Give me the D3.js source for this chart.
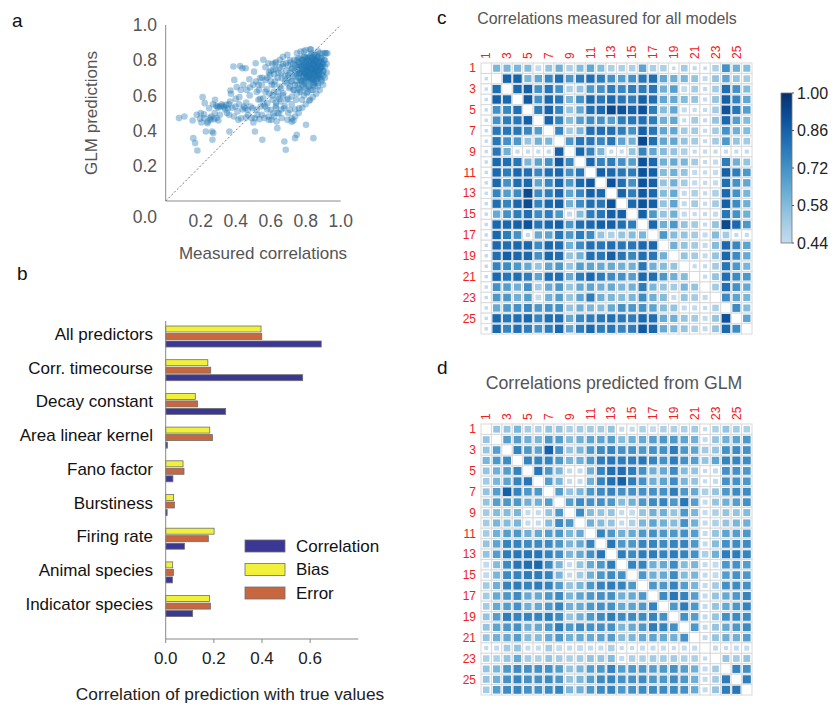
<!DOCTYPE html>
<html>
<head>
<meta charset="utf-8">
<script src="https://cdn.jsdelivr.net/npm/d3@7"></script>
<style>
  body { margin: 0; background: #fff; }
  text { font-family: 'Liberation Sans', Arial, sans-serif; }
</style>
</head>
<body>
<svg id="fig" width="837" height="707"></svg>
<script>
// ---------- Panel a: measured vs GLM-predicted correlations ----------
const scatterPoints = [
  [0.076,0.471],[0.107,0.480],[0.154,0.457],[0.158,0.357],[0.168,0.329],[0.181,0.287],[0.177,0.490],[0.196,0.467],
  [0.204,0.446],[0.211,0.590],[0.219,0.493],[0.223,0.556],[0.229,0.395],[0.238,0.442],[0.248,0.527],[0.253,0.471],
  [0.257,0.461],[0.265,0.395],[0.267,0.348],[0.272,0.386],[0.276,0.465],[0.282,0.575],[0.288,0.541],[0.291,0.471],
  [0.301,0.457],[0.295,0.537],[0.310,0.537],[0.324,0.541],[0.333,0.533],[0.345,0.546],[0.356,0.527],[0.362,0.490],
  [0.364,0.395],[0.368,0.565],[0.370,0.628],[0.373,0.609],[0.387,0.764],[0.392,0.688],[0.398,0.537],[0.406,0.647],
  [0.410,0.509],[0.415,0.461],[0.421,0.590],[0.425,0.767],[0.429,0.631],[0.438,0.754],[0.444,0.660],[0.448,0.537],
  [0.453,0.527],[0.457,0.754],[0.459,0.474],[0.463,0.631],[0.469,0.518],[0.478,0.692],[0.482,0.645],[0.486,0.537],
  [0.491,0.471],[0.497,0.527],[0.501,0.446],[0.505,0.735],[0.510,0.395],[0.514,0.783],[0.516,0.679],[0.520,0.518],
  [0.524,0.490],[0.530,0.575],[0.533,0.631],[0.535,0.465],[0.539,0.698],[0.543,0.537],[0.549,0.660],[0.552,0.348],
  [0.558,0.802],[0.558,0.584],[0.564,0.471],[0.568,0.537],[0.571,0.688],[0.577,0.635],[0.581,0.556],[0.587,0.783],
  [0.587,0.480],[0.592,0.609],[0.596,0.716],[0.600,0.518],[0.604,0.461],[0.606,0.660],[0.611,0.575],[0.615,0.745],
  [0.615,0.499],[0.619,0.622],[0.625,0.783],[0.625,0.679],[0.630,0.541],[0.634,0.452],[0.638,0.414],[0.640,0.594],
  [0.644,0.728],[0.648,0.499],[0.653,0.802],[0.653,0.650],[0.657,0.565],[0.663,0.698],[0.663,0.471],[0.667,0.764],
  [0.672,0.612],[0.676,0.527],[0.678,0.338],[0.682,0.679],[0.686,0.291],[0.688,0.783],[0.691,0.575],[0.695,0.461],
  [0.695,0.830],[0.701,0.716],[0.705,0.641],[0.710,0.518],[0.714,0.787],[0.716,0.679],[0.720,0.594],[0.724,0.754],
  [0.730,0.457],[0.733,0.631],[0.735,0.802],[0.739,0.357],[0.741,0.707],[0.745,0.575],[0.749,0.376],[0.752,0.775],
  [0.754,0.660],[0.758,0.811],[0.762,0.527],[0.764,0.726],[0.768,0.631],[0.771,0.849],[0.773,0.684],[0.777,0.764],
  [0.779,0.575],[0.783,0.802],[0.787,0.650],[0.790,0.735],[0.794,0.820],[0.796,0.679],[0.800,0.858],[0.802,0.433],
  [0.802,0.773],[0.806,0.612],[0.810,0.707],[0.813,0.811],[0.815,0.650],[0.819,0.754],[0.825,0.575],[0.825,0.862],
  [0.829,0.792],[0.830,0.684],[0.834,0.839],[0.838,0.726],[0.840,0.631],[0.844,0.357],[0.844,0.773],[0.848,0.820],
  [0.851,0.669],[0.853,0.745],[0.857,0.802],[0.859,0.707],[0.863,0.830],[0.867,0.764],[0.869,0.650],[0.872,0.792],
  [0.876,0.716],[0.882,0.839],[0.886,0.754],[0.888,0.811],[0.891,0.679],[0.895,0.783],[0.897,0.839],[0.901,0.735],
  [0.905,0.802],[0.910,0.764],[0.916,0.839],[0.924,0.839],[0.901,0.711],
  [0.74,0.74],[0.75,0.72],[0.76,0.76],[0.77,0.73],[0.78,0.75],[0.79,0.71],[0.80,0.74],[0.81,0.77],[0.82,0.72],
  [0.83,0.75],[0.84,0.78],[0.85,0.73],[0.86,0.76],[0.87,0.74],[0.88,0.77],[0.89,0.72],[0.76,0.79],[0.78,0.80],
  [0.80,0.79],[0.82,0.80],[0.84,0.81],[0.86,0.80],[0.88,0.79],[0.83,0.70],[0.85,0.69],[0.81,0.68],[0.79,0.67],
  [0.77,0.69],[0.75,0.68],[0.73,0.71],[0.72,0.75],[0.71,0.73],[0.70,0.77],[0.69,0.74],[0.68,0.71],[0.67,0.78],
  [0.66,0.73],[0.65,0.76],[0.64,0.70],[0.63,0.75],[0.62,0.72],[0.61,0.78],[0.60,0.74],[0.58,0.70],[0.57,0.76],
  [0.80,0.76],[0.81,0.74],[0.82,0.76],[0.83,0.73],[0.84,0.75],[0.85,0.77],[0.86,0.74],[0.87,0.78],[0.84,0.72],
  [0.82,0.78],[0.80,0.72],[0.78,0.73],[0.79,0.77],[0.83,0.79],[0.85,0.80],[0.87,0.71],[0.88,0.74],[0.89,0.76],
  [0.90,0.78],[0.86,0.71],[0.84,0.69],[0.82,0.69],[0.80,0.70],[0.78,0.68],[0.76,0.70],[0.74,0.77],[0.73,0.78],
  [0.75,0.80],[0.77,0.81],[0.79,0.82],[0.81,0.81],[0.83,0.82],[0.85,0.83],[0.87,0.82],[0.89,0.81],[0.91,0.80],
  [0.90,0.74],[0.88,0.70],[0.86,0.68],[0.84,0.66],[0.82,0.65],[0.80,0.64],[0.78,0.66],[0.76,0.64],[0.74,0.66],
  [0.72,0.68],[0.70,0.70],[0.69,0.67],[0.71,0.65],[0.73,0.63],[0.75,0.61],[0.77,0.62],[0.79,0.60],[0.81,0.62],
  [0.83,0.63],[0.85,0.65],[0.87,0.67],[0.89,0.69],[0.66,0.64],[0.64,0.62],[0.62,0.66],[0.60,0.68],[0.67,0.60],
  [0.65,0.58],[0.63,0.56],[0.70,0.58],[0.72,0.55],[0.68,0.54],[0.66,0.52],[0.64,0.50],[0.62,0.48],[0.70,0.50],
  [0.72,0.47],[0.74,0.52],[0.58,0.52],[0.56,0.55],[0.54,0.58],[0.52,0.62],[0.50,0.66],[0.48,0.60],[0.46,0.56],
  [0.44,0.52],[0.42,0.55],[0.40,0.58],[0.38,0.53],[0.36,0.55],[0.34,0.52],[0.32,0.55],[0.30,0.53],[0.28,0.50],
  [0.26,0.48],[0.24,0.45],[0.22,0.47],[0.20,0.50],[0.27,0.55],[0.31,0.49],[0.35,0.50],[0.39,0.48],[0.43,0.47],
  [0.47,0.49],[0.51,0.47],[0.55,0.49],[0.59,0.46],[0.63,0.53],[0.61,0.60],[0.57,0.62],[0.53,0.66],[0.55,0.70],
  [0.59,0.73],[0.63,0.79],[0.67,0.82],[0.71,0.80],[0.75,0.84],[0.79,0.85],[0.83,0.86],[0.87,0.85],[0.91,0.84],
  [0.92,0.78],[0.92,0.73],[0.91,0.70],[0.90,0.66],[0.88,0.63],[0.86,0.61],[0.84,0.59],[0.82,0.57],[0.80,0.55],
  [0.78,0.53],[0.76,0.50],[0.74,0.48],[0.72,0.45],
  [0.805,0.745],[0.815,0.735],[0.825,0.755],[0.835,0.745],[0.845,0.735],[0.855,0.755],[0.865,0.745],[0.875,0.735],
  [0.815,0.765],[0.835,0.775],[0.855,0.765],[0.845,0.785],[0.825,0.715],[0.845,0.715],[0.865,0.725],[0.805,0.705],
  [0.795,0.725],[0.785,0.745],[0.775,0.765],[0.795,0.785],[0.815,0.795],[0.855,0.795],[0.875,0.775],[0.885,0.755],
  [0.865,0.695],[0.835,0.695],[0.815,0.705],[0.785,0.705],[0.765,0.725],[0.755,0.745],[0.765,0.775],[0.785,0.785],
  [0.805,0.815],[0.825,0.825],[0.845,0.805],[0.865,0.815],[0.885,0.795],[0.895,0.765],[0.875,0.705],[0.845,0.675]
];
const scatterYTicks = [0.2, 0.4, 0.6, 0.8, 1.0];
const scatterXTicks = [0.2, 0.4, 0.6, 0.8, 1.0];

// ---------- Panel b: predictor importance ----------
const predictors = ["All predictors","Corr. timecourse","Decay constant","Area linear kernel",
  "Fano factor","Burstiness","Firing rate","Animal species","Indicator species"];
const biasValues        = [0.396,0.175,0.123,0.183,0.072,0.033,0.201,0.029,0.182];
const errorValues       = [0.399,0.187,0.132,0.194,0.076,0.036,0.177,0.032,0.186];
const correlationValues = [0.646,0.569,0.249,0.007,0.030,0.006,0.078,0.028,0.112];
const barSeries = ["Bias","Error","Correlation"];
const legendOrder = ["Correlation","Bias","Error"];
const barTicks = [0.0, 0.2, 0.4, 0.6];

// ---------- Panels c and d: model-by-model correlation matrices ----------
const modelIds = d3.range(1, 27);
const modelTickLabels = [1,3,5,7,9,11,13,15,17,19,21,23,25];
const colorbarTicks = [0.44, 0.58, 0.72, 0.86, 1.00];

const measuredMatrix = [
  [null,.60,.60,.60,.58,.40,.55,.62,.50,.58,.65,.58,.50,.50,.50,.66,.50,.50,.14,.52,.20,.14,.50,.72,.62,.58],
  [.14,null,.85,.85,.60,.65,.75,.82,.70,.78,.82,.78,.72,.68,.72,.80,.82,.65,.62,.60,.55,.30,.55,.66,.55,.52],
  [.14,.82,null,.84,.86,.72,.80,.72,.50,.55,.70,.72,.78,.75,.78,.78,.80,.62,.68,.40,.52,.20,.52,.82,.72,.58],
  [.14,.86,.84,null,.88,.72,.84,.80,.60,.72,.84,.80,.84,.80,.78,.86,.82,.65,.64,.58,.55,.20,.55,.86,.76,.65],
  [.14,.72,.75,.82,null,.78,.85,.76,.55,.65,.82,.84,.93,.90,.86,.90,.78,.58,.65,.30,.20,.20,.52,.90,.80,.68],
  [.14,.72,.78,.80,.86,null,.85,.76,.58,.68,.74,.72,.68,.78,.80,.82,.78,.62,.65,.20,.52,.20,.55,.84,.68,.58],
  [.14,.80,.80,.80,.75,.68,null,.76,.52,.60,.82,.82,.82,.78,.72,.86,.80,.65,.65,.52,.52,.20,.52,.72,.62,.58],
  [.14,.80,.72,.70,.55,.62,.60,null,.70,.80,.80,.75,.80,.66,.62,.93,.82,.65,.65,.55,.52,.20,.52,.70,.55,.52],
  [.14,.80,.62,.20,.20,.20,.20,.86,null,.84,.76,.60,.20,.20,.55,.76,.65,.58,.55,.50,.20,.20,.20,.20,.20,.20],
  [.14,.84,.82,.80,.60,.66,.72,.88,.75,null,.84,.76,.78,.72,.68,.90,.84,.62,.64,.60,.52,.20,.30,.78,.62,.55],
  [.14,.84,.78,.84,.82,.75,.82,.84,.72,.80,null,.86,.84,.80,.78,.90,.86,.58,.62,.55,.30,.20,.30,.86,.78,.70],
  [.14,.84,.72,.82,.84,.66,.75,.84,.70,.84,.88,null,.90,.82,.72,.90,.86,.55,.62,.52,.30,.20,.30,.82,.72,.65],
  [.14,.76,.68,.74,.93,.74,.78,.84,.66,.75,.86,.84,null,.85,.78,.88,.84,.58,.64,.30,.50,.20,.50,.84,.72,.60],
  [.14,.82,.76,.84,.92,.76,.84,.86,.62,.74,.82,.80,.90,null,.84,.90,.86,.55,.66,.30,.52,.20,.52,.86,.74,.62],
  [.14,.64,.72,.78,.82,.74,.78,.70,.30,.58,.78,.80,.86,.86,null,.86,.70,.55,.62,.30,.20,.20,.30,.80,.72,.62],
  [.14,.84,.84,.86,.90,.80,.84,.86,.70,.82,.84,.86,.86,.82,.78,null,.84,.62,.70,.55,.52,.20,.55,.93,.84,.70],
  [.14,.84,.78,.72,.20,.64,.66,.80,.70,.78,.74,.55,.50,.55,.58,.60,null,.70,.58,.55,.52,.30,.58,.52,.20,.20],
  [.14,.84,.82,.84,.84,.74,.84,.82,.62,.74,.82,.80,.82,.80,.80,.84,.84,null,.62,.55,.52,.30,.58,.84,.75,.66],
  [.14,.82,.86,.84,.84,.72,.84,.82,.55,.62,.82,.80,.86,.80,.75,.82,.80,.62,null,.55,.52,.30,.55,.84,.74,.64],
  [.14,.76,.74,.70,.64,.55,.66,.70,.55,.68,.66,.64,.64,.62,.62,.80,.62,.58,.55,null,.20,.20,.52,.80,.70,.60],
  [.14,.84,.80,.82,.78,.66,.82,.82,.64,.78,.84,.78,.74,.72,.68,.84,.82,.70,.62,.58,null,.20,.55,.82,.74,.70],
  [.14,.72,.68,.62,.72,.52,.64,.70,.55,.64,.66,.62,.64,.60,.62,.78,.60,.55,.52,.60,.55,null,.52,.82,.72,.64],
  [.14,.70,.70,.62,.68,.40,.62,.68,.55,.66,.78,.62,.60,.58,.60,.74,.62,.58,.30,.55,.52,.30,null,.74,.66,.60],
  [.14,.64,.70,.72,.75,.70,.72,.72,.55,.62,.60,.58,.64,.72,.70,.72,.66,.58,.55,.30,.30,.20,.50,null,.74,.58],
  [.14,.84,.80,.82,.84,.76,.82,.82,.64,.75,.78,.80,.82,.80,.78,.84,.82,.64,.62,.55,.52,.30,.55,.90,null,.66],
  [.14,.84,.76,.82,.78,.72,.78,.84,.66,.78,.84,.78,.80,.76,.78,.88,.84,.64,.60,.55,.50,.30,.55,.84,.74,null]
];

const predictedMatrix = [
  [null,.55,.55,.60,.52,.50,.55,.55,.50,.52,.52,.52,.55,.30,.30,.50,.40,.50,.50,.50,.52,.20,.50,.55,.52,.50],
  [.55,null,.68,.68,.62,.60,.70,.68,.58,.62,.66,.66,.68,.58,.62,.64,.68,.70,.70,.66,.62,.30,.55,.62,.66,.70],
  [.55,.68,null,.76,.70,.66,.86,.72,.55,.60,.70,.74,.76,.72,.72,.70,.72,.72,.78,.70,.66,.52,.55,.72,.74,.72],
  [.60,.70,.74,null,.76,.76,.76,.70,.60,.62,.70,.78,.80,.78,.78,.80,.76,.72,.78,.72,.68,.55,.66,.76,.76,.74],
  [.55,.62,.68,.76,null,.80,.70,.60,.30,.30,.62,.76,.82,.82,.78,.72,.62,.64,.74,.58,.55,.20,.30,.72,.72,.70],
  [.52,.60,.66,.76,.80,null,.68,.60,.30,.30,.62,.76,.82,.86,.78,.72,.62,.66,.74,.60,.55,.20,.30,.72,.72,.70],
  [.55,.68,.86,.76,.70,.70,null,.68,.55,.60,.70,.74,.76,.72,.72,.72,.72,.72,.78,.70,.64,.50,.55,.70,.74,.74],
  [.55,.68,.70,.70,.62,.62,.68,null,.68,.74,.72,.72,.70,.58,.62,.70,.74,.76,.70,.80,.68,.30,.55,.62,.68,.72],
  [.52,.58,.58,.60,.30,.30,.55,.70,null,.74,.58,.55,.55,.30,.40,.55,.62,.62,.55,.70,.60,.30,.50,.55,.55,.58],
  [.52,.60,.58,.60,.30,.30,.58,.74,.70,null,.62,.58,.55,.30,.50,.60,.66,.62,.58,.72,.62,.30,.50,.55,.60,.62],
  [.52,.62,.68,.70,.62,.64,.68,.70,.60,.64,null,.76,.70,.62,.64,.70,.72,.70,.70,.72,.68,.30,.55,.66,.68,.70],
  [.55,.66,.76,.76,.74,.74,.74,.70,.60,.64,.76,null,.80,.70,.70,.76,.76,.74,.76,.76,.70,.30,.58,.72,.74,.74],
  [.55,.68,.78,.80,.80,.80,.76,.72,.60,.64,.72,.80,null,.78,.74,.78,.78,.76,.78,.76,.72,.50,.62,.78,.78,.76],
  [.40,.58,.74,.80,.82,.84,.74,.60,.30,.55,.64,.70,.78,null,.76,.76,.62,.64,.74,.58,.60,.30,.40,.70,.72,.68],
  [.40,.60,.74,.76,.78,.78,.76,.60,.30,.52,.62,.70,.74,.72,null,.70,.62,.64,.74,.58,.60,.30,.40,.68,.72,.70],
  [.52,.62,.76,.78,.76,.78,.76,.68,.55,.60,.70,.76,.78,.76,.70,null,.70,.70,.76,.68,.60,.30,.52,.72,.74,.72],
  [.52,.64,.70,.74,.64,.64,.70,.74,.60,.66,.70,.72,.72,.62,.64,.70,null,.74,.80,.76,.68,.30,.55,.64,.70,.76],
  [.52,.64,.68,.72,.62,.64,.70,.76,.62,.64,.70,.72,.72,.64,.66,.70,.76,null,.70,.78,.70,.30,.55,.64,.70,.76],
  [.55,.68,.78,.76,.76,.76,.78,.74,.55,.62,.70,.74,.78,.74,.74,.74,.76,.72,null,.72,.68,.30,.55,.72,.74,.74],
  [.55,.66,.70,.72,.62,.64,.70,.78,.70,.74,.72,.72,.72,.60,.64,.70,.78,.76,.72,null,.70,.30,.55,.64,.70,.74],
  [.55,.62,.64,.68,.58,.58,.64,.70,.62,.64,.64,.66,.68,.58,.60,.64,.66,.64,.62,.72,null,.30,.55,.62,.62,.68],
  [.20,.30,.52,.55,.30,.30,.52,.40,.30,.40,.30,.30,.50,.20,.20,.30,.30,.30,.20,.30,.30,null,.30,.20,.30,.30],
  [.50,.50,.55,.64,.52,.50,.55,.52,.50,.52,.55,.55,.58,.30,.50,.50,.52,.52,.52,.50,.50,.20,null,.55,.52,.55],
  [.55,.60,.70,.74,.72,.72,.72,.68,.55,.60,.68,.70,.76,.68,.70,.70,.68,.70,.72,.68,.62,.30,.52,null,.76,.72],
  [.55,.62,.72,.76,.72,.72,.74,.70,.55,.60,.68,.74,.76,.72,.72,.74,.70,.70,.74,.70,.62,.30,.52,.78,null,.78],
  [.52,.68,.74,.76,.72,.72,.74,.76,.60,.62,.70,.74,.76,.70,.72,.74,.74,.74,.74,.72,.64,.30,.55,.78,.80,null]
];

// ---------- drawing ----------
const svg = d3.select("#fig");

function panelLetter(x, y, s) {
  svg.append("text").attr("x", x).attr("y", y).attr("font-size", 19)
    .attr("fill", "#111").text(s);
}
panelLetter(12, 27, "a");
panelLetter(17, 280, "b");
panelLetter(437, 24, "c");
panelLetter(437, 374, "d");

// Panel a
{
  const x = d3.scaleLinear().domain([0, 1]).range([165.7, 340.7]);
  const y = d3.scaleLinear().domain([0, 1]).range([201, 25]);
  const g = svg.append("g");
  g.append("line").attr("x1", x(0)).attr("x2", x(0)).attr("y1", y(0)).attr("y2", y(1))
    .attr("stroke", "#8a8a8a").attr("stroke-width", 1);
  g.append("line").attr("x1", x(0)).attr("x2", x(1)).attr("y1", y(0)).attr("y2", y(0))
    .attr("stroke", "#8a8a8a").attr("stroke-width", 1);
  g.append("line").attr("x1", x(0)).attr("y1", y(0)).attr("x2", x(1)).attr("y2", y(1))
    .attr("stroke", "#666").attr("stroke-width", 0.9).attr("stroke-dasharray", "2,2");
  g.selectAll("circle.pt").data(scatterPoints).join("circle")
    .attr("class", "pt")
    .attr("cx", d => x(d[0])).attr("cy", d => y(d[1])).attr("r", 3.3)
    .attr("fill", "#1f77b4").attr("fill-opacity", 0.38);
  g.selectAll("text.yt").data(scatterYTicks).join("text").attr("class", "yt")
    .attr("x", 157).attr("y", d => y(d)).attr("dy", "0.35em").attr("text-anchor", "end")
    .attr("font-size", 17.5).attr("fill", "#555").text(d => d3.format(".1f")(d));
  g.selectAll("text.xt").data(scatterXTicks).join("text").attr("class", "xt")
    .attr("x", d => x(d)).attr("y", 221).attr("dy", "0.35em").attr("text-anchor", "middle")
    .attr("font-size", 17.5).attr("fill", "#555").text(d => d3.format(".1f")(d));
  g.append("text").attr("x", 157).attr("y", 217).attr("dy", "0.35em").attr("text-anchor", "end")
    .attr("font-size", 17.5).attr("fill", "#555").text("0.0");
  g.append("text").attr("transform", "translate(97,113) rotate(-90)").attr("text-anchor", "middle")
    .attr("font-size", 17).attr("fill", "#555").text("GLM predictions");
  g.append("text").attr("x", 263).attr("y", 259).attr("text-anchor", "middle")
    .attr("font-size", 17).attr("fill", "#555").text("Measured correlations");
}

// Panel b
{
  const x = d3.scaleLinear().domain([0, 0.8]).range([165.7, 358.3]);
  const gy = d3.scaleBand().domain(predictors).range([320, 623.3]);
  const sy = d3.scaleBand().domain(barSeries).range([6, 27]).paddingInner(0.2);
  const colors = { Bias: "#f1f03a", Error: "#c8673f", Correlation: "#3b3794" };
  const valuesBySeries = { Bias: biasValues, Error: errorValues, Correlation: correlationValues };
  const g = svg.append("g");
  const rows = predictors.flatMap((p, i) => barSeries.map(s => ({ p, s, v: valuesBySeries[s][i] })));
  g.selectAll("rect.bar").data(rows).join("rect").attr("class", "bar")
    .attr("x", x(0)).attr("y", d => gy(d.p) + sy(d.s))
    .attr("width", d => x(d.v) - x(0)).attr("height", sy.bandwidth())
    .attr("fill", d => colors[d.s]).attr("stroke", "#6e6e6e").attr("stroke-width", 0.8);
  g.append("line").attr("x1", x(0)).attr("x2", x(0)).attr("y1", 321).attr("y2", 639)
    .attr("stroke", "#888").attr("stroke-width", 1);
  g.append("line").attr("x1", x(0)).attr("x2", x(0.8)).attr("y1", 639).attr("y2", 639)
    .attr("stroke", "#888").attr("stroke-width", 1);
  g.selectAll("line.tk").data(barTicks).join("line").attr("class", "tk")
    .attr("x1", d => x(d)).attr("x2", d => x(d)).attr("y1", 639).attr("y2", 643)
    .attr("stroke", "#888");
  g.selectAll("text.tl").data(barTicks).join("text").attr("class", "tl")
    .attr("x", d => x(d)).attr("y", 664).attr("text-anchor", "middle")
    .attr("font-size", 17).attr("fill", "#222").text(d => d3.format(".1f")(d));
  g.selectAll("text.cat").data(predictors).join("text").attr("class", "cat")
    .attr("x", 153).attr("y", d => gy(d) + 20).attr("text-anchor", "end")
    .attr("font-size", 17).attr("fill", "#111").text(d => d);
  g.append("text").attr("x", 230).attr("y", 700).attr("text-anchor", "middle")
    .attr("font-size", 17.3).attr("fill", "#222").text("Correlation of prediction with true values");
  const ly = d3.scalePoint().domain(legendOrder).range([540, 587]);
  const lg = g.selectAll("g.leg").data(legendOrder).join("g").attr("class", "leg")
    .attr("transform", d => `translate(245,${ly(d)})`);
  lg.append("rect").attr("width", 40).attr("height", 12)
    .attr("fill", d => colors[d]).attr("stroke", "#6e6e6e").attr("stroke-width", 0.8);
  lg.append("text").attr("x", 51).attr("y", 6).attr("dy", "0.35em")
    .attr("font-size", 17).attr("fill", "#111").text(d => d);
}

// Panels c and d
const cmin = 0.44, cmax = 1.0;
const tScale = d3.scaleLinear().domain([cmin, cmax]).range([0, 1]).clamp(true);
const cellColor = v => d3.interpolateBlues(0.25 + 0.75 * tScale(v));

function drawMatrix(data, left, top, size, title, titleX, titleY, titleSize) {
  const g = svg.append("g");
  const x = d3.scaleBand().domain(modelIds).range([left, left + size]);
  const y = d3.scaleBand().domain(modelIds).range([top, top + size]);
  const bw = x.bandwidth();
  const cells = [];
  data.forEach((row, i) => row.forEach((v, j) => cells.push({ r: modelIds[i], c: modelIds[j], v })));
  g.selectAll("rect.cell").data(cells).join("rect").attr("class", "cell")
    .attr("x", d => x(d.c)).attr("y", d => y(d.r)).attr("width", bw).attr("height", bw)
    .attr("fill", "#fff").attr("stroke", "#dadada").attr("stroke-width", 1);
  g.selectAll("rect.sq").data(cells.filter(d => d.v !== null)).join("rect").attr("class", "sq")
    .each(function (d) {
      const s = bw * 0.88 * Math.sqrt(d.v);
      d3.select(this)
        .attr("x", x(d.c) + (bw - s) / 2).attr("y", y(d.r) + (bw - s) / 2)
        .attr("width", s).attr("height", s).attr("fill", cellColor(d.v));
    });
  g.selectAll("text.rl").data(modelTickLabels).join("text").attr("class", "rl")
    .attr("x", left - 5).attr("y", d => y(d) + bw / 2).attr("dy", "0.35em")
    .attr("text-anchor", "end").attr("font-size", 12).attr("fill", "#f02020").text(d => d);
  g.selectAll("text.cl").data(modelTickLabels).join("text").attr("class", "cl")
    .attr("transform", d => `translate(${x(d) + bw / 2},${top - 4}) rotate(-90)`)
    .attr("dy", "0.35em").attr("font-size", 12).attr("fill", "#f02020").text(d => d);
  svg.append("text").attr("x", titleX).attr("y", titleY).attr("text-anchor", "middle")
    .attr("font-size", titleSize).attr("fill", "#555").text(title);
}
drawMatrix(measuredMatrix, 481, 63, 271, "Correlations measured for all models", 607, 24, 15.9);
drawMatrix(predictedMatrix, 481, 424, 271, "Correlations predicted from GLM", 614, 389, 17.7);

// Colour bar
{
  const y = d3.scaleLinear().domain([cmin, cmax]).range([243, 93]);
  const defs = svg.append("defs");
  const grad = defs.append("linearGradient").attr("id", "cbar")
    .attr("x1", 0).attr("y1", 1).attr("x2", 0).attr("y2", 0);
  d3.range(0, 1.0001, 0.1).forEach(t => {
    grad.append("stop").attr("offset", t).attr("stop-color", cellColor(cmin + t * (cmax - cmin)));
  });
  svg.append("rect").attr("x", 781).attr("y", 93).attr("width", 11).attr("height", 150)
    .attr("fill", "url(#cbar)").attr("stroke", "#777").attr("stroke-width", 0.8);
  svg.selectAll("line.cbt").data(colorbarTicks).join("line").attr("class", "cbt")
    .attr("x1", 792).attr("x2", 794).attr("y1", d => y(d)).attr("y2", d => y(d)).attr("stroke", "#555");
  svg.selectAll("text.cbl").data(colorbarTicks).join("text").attr("class", "cbl")
    .attr("x", 797).attr("y", d => y(d)).attr("dy", "0.35em")
    .attr("font-size", 16).attr("fill", "#222").text(d => d3.format(".2f")(d));
}
</script>
</body>
</html>
